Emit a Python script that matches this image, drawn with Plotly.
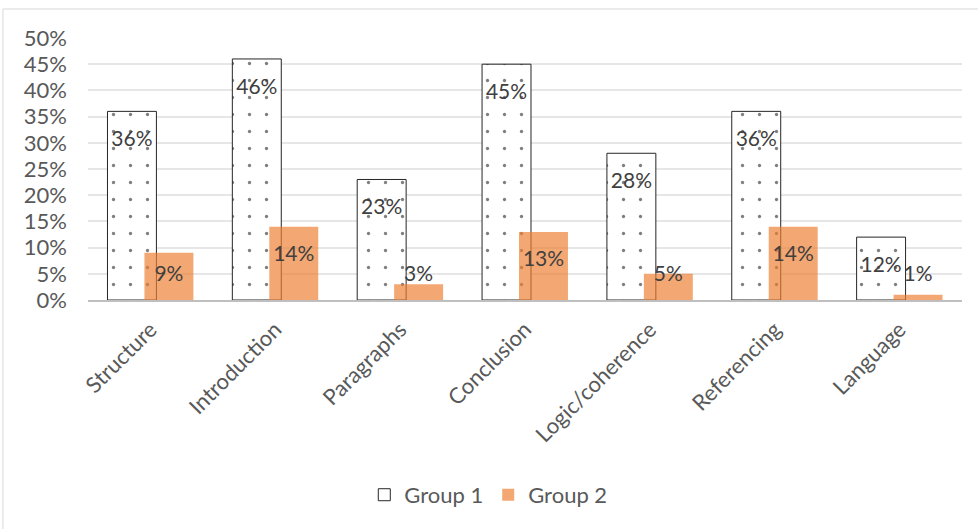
import plotly.graph_objects as go

categories = ["Structure", "Introduction", "Paragraphs", "Conclusion", "Logic/coherence", "Referencing", "Language"]
group1 = [36, 46, 23, 45, 28, 36, 12]
group2 = [9, 14, 3, 13, 5, 14, 1]
y_ticks = [0, 5, 10, 15, 20, 25, 30, 35, 40, 45, 50]

W, OFF1, OFF2 = 0.392, -0.344, -0.048
xs = list(range(len(categories)))
FONT = "Lato, Open Sans, sans-serif"
FS = 22

fig = go.Figure()
fig.add_trace(go.Bar(
    x=xs, y=[v / 100 for v in group1], name="Group 1", width=W, offset=OFF1,
    marker=dict(color="white", line=dict(color="#262626", width=1),
                pattern=dict(shape=".", fgcolor="black", bgcolor="white", size=17, solidity=0.03)),
    hoverinfo="skip", showlegend=False,
))
fig.add_trace(go.Bar(
    x=xs, y=[v / 100 for v in group2], name="Group 2", width=W, offset=OFF2,
    marker=dict(color="rgba(237,125,49,0.68)", line=dict(width=0)),
    hoverinfo="skip", showlegend=False,
))

def label_y(v):
    return max(v - 5.6, 4.6) / 100

for vals, off in ((group1, OFF1), (group2, OFF2)):
    fig.add_trace(go.Scatter(
        x=[i + off + W / 2 for i in xs], y=[label_y(v) for v in vals],
        mode="text", text=[f"{v}%" for v in vals],
        textfont=dict(family=FONT, size=21, color="#404040"),
        showlegend=False, hoverinfo="skip",
    ))

# legend-only entries
fig.add_trace(go.Bar(x=[None], y=[None], name="Group 1",
                     marker=dict(color="white", line=dict(color="#262626", width=1))))
fig.add_trace(go.Bar(x=[None], y=[None], name="Group 2",
                     marker=dict(color="rgba(237,125,49,0.68)", line=dict(width=0))))

fig.update_layout(
    width=978, height=529,
    margin=dict(l=88, r=16, t=38, b=229),
    paper_bgcolor="white", plot_bgcolor="white",
    barmode="overlay",
    font=dict(family=FONT, size=FS, color="#595959"),
    showlegend=True,
    legend=dict(orientation="h", x=0.458, xanchor="center", y=-0.744, yanchor="middle",
                font=dict(family=FONT, size=FS, color="#595959"), traceorder="normal",
                itemwidth=30),
    xaxis=dict(range=[-0.5, len(categories) - 0.5], tickvals=xs, ticktext=categories,
               tickangle=-45, showgrid=False, zeroline=False, showline=True,
               linecolor="#BFBFBF", linewidth=2, ticks="", ticklabelstandoff=6,
               tickfont=dict(family=FONT, size=FS, color="#595959")),
    yaxis=dict(range=[0, 0.5], tickvals=[t / 100 for t in y_ticks],
               ticktext=[f"{t}%" for t in y_ticks], showgrid=True, gridcolor="#E6E6E6",
               gridwidth=2, zeroline=False, showline=False, ticks="", ticklabelstandoff=20,
               tickfont=dict(family=FONT, size=FS, color="#595959")),
    shapes=[
        dict(type="line", xref="paper", yref="paper", x0=-0.0973, x1=1.02, y0=1.1107, y1=1.1107,
             line=dict(color="#D9D9D9", width=1)),
        dict(type="line", xref="paper", yref="paper", x0=-0.0973, x1=-0.0973, y0=1.1107, y1=-0.9,
             line=dict(color="#D9D9D9", width=1)),
    ],
)

fig.write_html("out.html")
